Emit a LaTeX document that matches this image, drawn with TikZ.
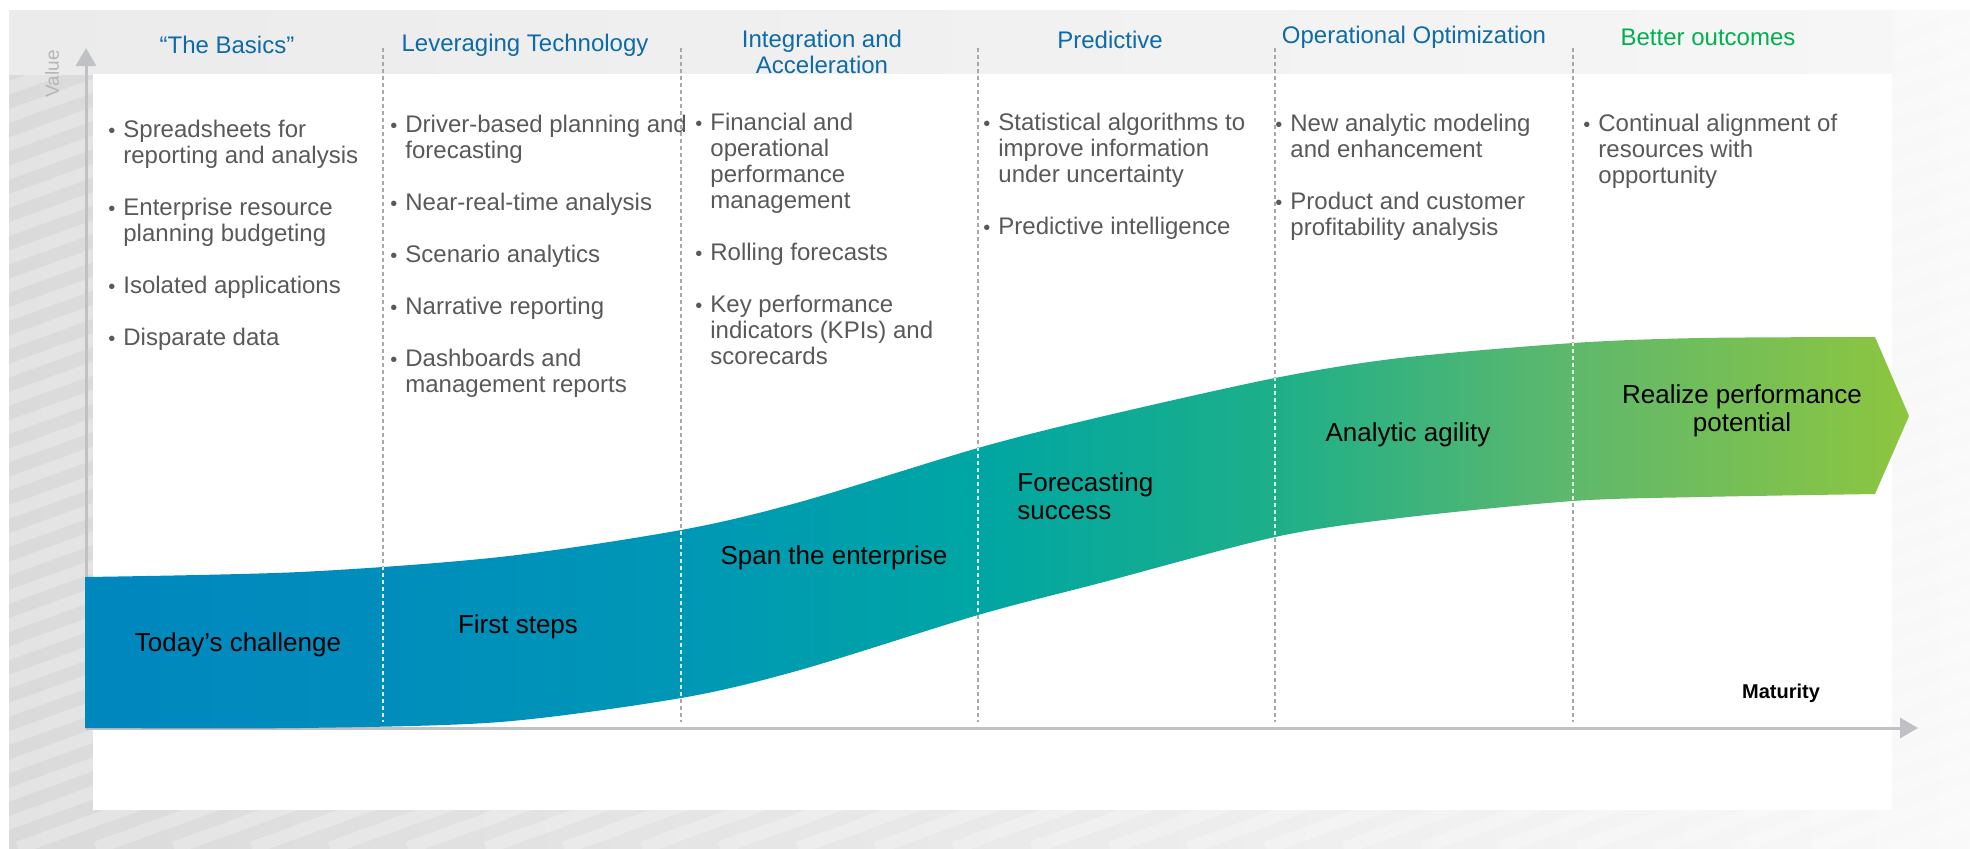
\documentclass[tikz,border=0pt]{standalone}
\usepackage{fontspec}
\setmainfont{Liberation Sans}
\usetikzlibrary{arrows.meta}
\definecolor{headblue}{HTML}{0E6BA8}
\definecolor{headgreen}{HTML}{00B050}
\definecolor{itemgray}{HTML}{595959}
\definecolor{axisgray}{HTML}{C0C1C5}
\definecolor{dashgray}{HTML}{A8A8A8}
\definecolor{valuegray}{HTML}{B5B5B5}
\definecolor{framegray}{HTML}{DADADA}
\definecolor{framelight}{HTML}{F9F9F9}
\definecolor{headgray}{HTML}{EBEBEB}
\definecolor{headlight}{HTML}{F6F6F6}
\definecolor{bandA}{HTML}{0087BE}
\definecolor{bandB}{HTML}{008DBC}
\definecolor{bandC}{HTML}{0097B6}
\definecolor{bandD}{HTML}{00A6A3}
\definecolor{bandE}{HTML}{1DAF89}
\definecolor{bandF}{HTML}{5FB86C}
\definecolor{bandG}{HTML}{8DC63F}
\pgfdeclarehorizontalshading{bandshade}{100bp}{color(0bp)=(bandA); color(25bp)=(bandA);
  color(33.2bp)=(bandB); color(41.3bp)=(bandC); color(49.5bp)=(bandD);
  color(57.6bp)=(bandE); color(65.8bp)=(bandF); color(75bp)=(bandG); color(100bp)=(bandG)}
\newcommand{\bandpath}{plot[smooth] coordinates {(85,577) (300,572) (500,557) (681,530)
    (800,502) (978,448) (1100,417) (1275,378) (1400,358) (1573,343) (1700,338) (1875,337)}
  -- (1909,416)
  -- plot[smooth] coordinates {(1875,494) (1700,497) (1573,501) (1400,518) (1275,537)
    (1100,583) (978,615) (800,670) (681,698) (500,722) (300,728) (85,728)} -- cycle}
\newcommand{\bul}{\leavevmode\llap{{\fontsize{10}{10}\selectfont\textbullet}\hspace{4pt}}}

\begin{document}
\begin{tikzpicture}[x=0.5pt,y=-0.5pt]
    \tikzset{%
      colhead/.style={inner sep=0pt, font=\fontsize{12}{13}\selectfont,
        text=headblue, align=center},
      itemlist/.style={anchor=base west, inner sep=0pt,
        font=\fontsize{12}{13}\selectfont, text=itemgray},
      stagelabel/.style={inner sep=0pt, font=\fontsize{13}{14}\selectfont,
        text=black, align=center},
      valaxis/.style={draw=axisgray, line width=1.5pt,
        -{Triangle[length=9pt,width=10pt]}},
      stagesep/.style={draw=dashgray, line width=1pt, dash pattern=on 2pt off 1.5pt},
      framestripe/.style={draw=white, opacity=.25, line width=6.5pt},
    }
    \useasboundingbox (0,0) rectangle (1970,848);
    \shade[left color=framegray, right color=framelight] (9,10) rectangle (1970,848);
    \begin{scope}
      \clip (9,10) rectangle (1970,848);
      \foreach \s in {-2400,-2322,...,1970}
        \draw[framestripe] (\s,848) -- ++(2400,-870);
    \end{scope}
    \shade[left color=headgray, right color=headlight] (9,10) rectangle (1892,74);
    \fill[white] (93,74) rectangle (1892,810);

    \coordinate (O) at (86,728);
    \coordinate (Ytip) at (86,48);
    \coordinate (Xtip) at (1918,728);
    \draw[valaxis] (O) -- (Ytip);
    \draw[valaxis] (O) -- (Xtip);
    \node[font=\fontsize{9.5}{10}\selectfont, text=valuegray, rotate=90,
      inner sep=0pt] (V) at (52,74) {Value};
    \node[font=\bfseries\fontsize{10}{11}\selectfont, inner sep=0pt] (M)
      at (1781,693) {Maturity};

    \foreach \x [count=\i] in {383,681,978,1275,1573} {
      \coordinate (T\i) at (\x,48);
      \coordinate (B\i) at (\x,722);
      \draw[stagesep] (T\i) -- (B\i);
    }

    \shade[shading=bandshade] \bandpath;
    \begin{scope}
      \clip \bandpath;
      \foreach \i in {1,...,5}
        \draw[stagesep, draw=white, opacity=.85] (T\i) -- (B\i);
    \end{scope}

    \node[colhead] (H1) at (227,45) {“The Basics”};
    \node[colhead] (H2) at (525,45) {Leveraging Technology};
    \node[colhead] (H3) at (822,52) {Integration and\\Acceleration};
    \node[colhead] (H4) at (1110,40) {Predictive};
    \node[colhead] (H5) at (1414,37) {Operational Optimization};
    \node[colhead, text=headgreen] (H6) at (1708,37) {Better outcomes};

    \node[itemlist] (L1) at (123,137) {\parbox[t]{150pt}{\bul Spreadsheets for\\
      reporting and analysis\\[13pt]\bul Enterprise resource\\planning budgeting\\[13pt]
      \bul Isolated applications\\[13pt]\bul Disparate data}};
    \node[itemlist] (L2) at (405,132) {\parbox[t]{150pt}{\bul Driver-based planning and\\
      forecasting\\[13pt]\bul Near-real-time analysis\\[13pt]\bul Scenario analytics\\[13pt]
      \bul Narrative reporting\\[13pt]\bul Dashboards and\\management reports}};
    \node[itemlist] (L3) at (710,130) {\parbox[t]{150pt}{\bul Financial and\\operational\\
      performance\\management\\[13pt]\bul Rolling forecasts\\[13pt]
      \bul Key performance\\indicators (KPIs) and\\scorecards}};
    \node[itemlist] (L4) at (998,130) {\parbox[t]{150pt}{\bul Statistical algorithms to\\
      improve information\\under uncertainty\\[13pt]\bul Predictive intelligence}};
    \node[itemlist] (L5) at (1290,131) {\parbox[t]{150pt}{\bul New analytic modeling\\
      and enhancement\\[13pt]\bul Product and customer\\profitability analysis}};
    \node[itemlist] (L6) at (1598,131) {\parbox[t]{150pt}{\bul Continual alignment of\\
      resources with\\opportunity}};

    \node[stagelabel] (S1) at (238,645) {Today’s challenge};
    \node[stagelabel] (S2) at (518,627) {First steps};
    \node[stagelabel] (S3) at (834,558) {Span the enterprise};
    \node[stagelabel, align=left, anchor=west] (S4) at (1017,496) {Forecasting\\success};
    \node[stagelabel] (S5) at (1408,435) {Analytic agility};
    \node[stagelabel] (S6) at (1742,411) {Realize performance\\potential};
\end{tikzpicture}
\end{document}
